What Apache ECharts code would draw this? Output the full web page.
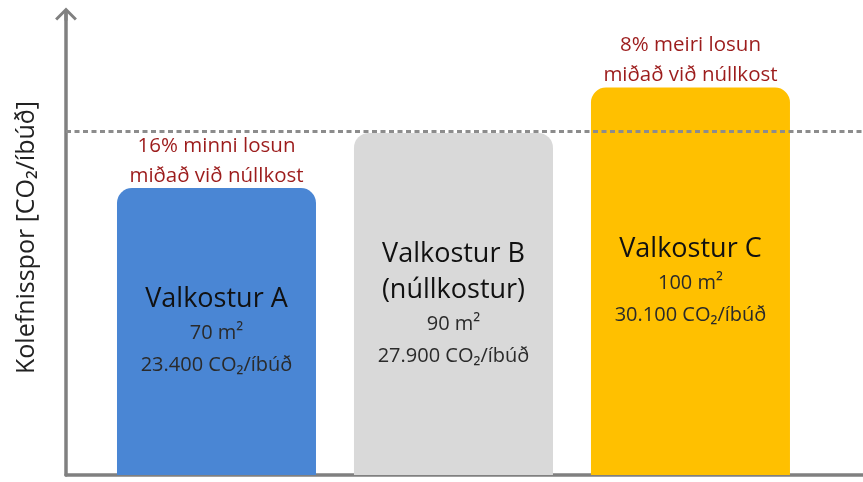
<!DOCTYPE html>
<html>
<head>
<meta charset="utf-8">
<script src="https://cdn.jsdelivr.net/npm/echarts@6/dist/echarts.min.js"></script>
<style>
  html, body { margin: 0; padding: 0; background: #fff; }
  #chart { width: 863px; height: 482px; }
</style>
</head>
<body>
<div id="chart"></div>
<script>
// values
const categories = ['Valkostur A', 'Valkostur B', 'Valkostur C'];
const subTitles = ['', '(núllkostur)', ''];
const areas = ['70 m²', '90 m²', '100 m²'];
const footprintLabels = ['23.400 CO₂/íbúð', '27.900 CO₂/íbúð', '30.100 CO₂/íbúð'];
const barHeights = [23400, 27900, 31600]; // heights as drawn (C is drawn taller than its label)
const notes = ['16% minni losun\nmiðað við núllkost', '', '8% meiri losun\nmiðað við núllkost'];
const nullLevel = 28050; // dashed reference line
const barColors = ['#4a86d4', '#d9d9d9', '#ffc000'];
const yAxisName = 'Kolefnisspor [CO₂/íbúð]';

const FONT = '"Open Sans", sans-serif';
const AXIS_GREY = '#808080';
// open chevron with a short stem, tip pointing up
const CHEVRON = 'path://M11,0 L22,11 L19.9,13.1 L12.6,5.8 L12.6,13 L9.4,13 L9.4,5.8 L2.1,13.1 L0,11 Z';

const chart = echarts.init(document.getElementById('chart'), null, { renderer: 'canvas' });

const insideText = (i) => {
  const lines = ['{t|' + categories[i] + '}'];
  if (subTitles[i]) lines.push('{t|' + subTitles[i] + '}');
  lines.push('{s|' + areas[i] + '}');
  lines.push('{s|' + footprintLabels[i] + '}');
  return lines.join('\n');
};

const noteText = (i) => notes[i] ? notes[i].split('\n').map(l => '{r|' + l + '}').join('\n') : '';

chart.setOption({
  animation: false,
  backgroundColor: '#fff',
  grid: { left: 66, right: 0, top: 14, bottom: 7, outerBoundsMode: 'none' },
  xAxis: {
    type: 'value', min: -0.635, max: 2.728,
    axisLine: { show: true, lineStyle: { color: AXIS_GREY, width: 3.5 } },
    axisTick: { show: false }, axisLabel: { show: false }, splitLine: { show: false },
  },
  yAxis: {
    type: 'value', min: 0, max: 37600,
    name: yAxisName, nameLocation: 'middle', nameGap: 27,
    nameTextStyle: { fontFamily: FONT, fontSize: 25, color: '#222', padding: [0, 0, 0, 14] },
    axisLine: {
      show: true, onZero: false,
      symbol: ['none', CHEVRON], symbolSize: [22, 13],
      lineStyle: { color: AXIS_GREY, width: 3.5 },
    },
    axisTick: { show: false }, axisLabel: { show: false }, splitLine: { show: false },
  },
  series: [
    {
      type: 'bar', barWidth: 199,
      data: barHeights.map((v, i) => ({
        value: [i, v],
        itemStyle: { color: barColors[i], borderRadius: [15, 15, 0, 0] },
      })),
      label: {
        show: true, position: 'inside',
        formatter: (p) => insideText(p.dataIndex),
        rich: {
          t: { fontFamily: FONT, fontSize: 27, color: '#111', lineHeight: 36 },
          s: { fontFamily: FONT, fontSize: 20, color: '#2a2a2a', lineHeight: 32 },
        },
      },
      markLine: {
        silent: true, symbol: ['none', 'none'], label: { show: false },
        lineStyle: { color: '#8c8c8c', type: [5, 3.5], width: 3 },
        data: [{ yAxis: nullLevel }],
      },
    },
    {
      type: 'bar', barWidth: 199, barGap: '-100%', silent: true,
      data: barHeights.map((v, i) => [i, v]),
      itemStyle: { color: 'rgba(0,0,0,0)' },
      label: {
        show: true, position: 'top', distance: -3,
        formatter: (p) => noteText(p.dataIndex),
        rich: { r: { fontFamily: FONT, fontSize: 20.5, color: '#9c1c1c', lineHeight: 30 } },
      },
    },
  ],
});
</script>
</body>
</html>
